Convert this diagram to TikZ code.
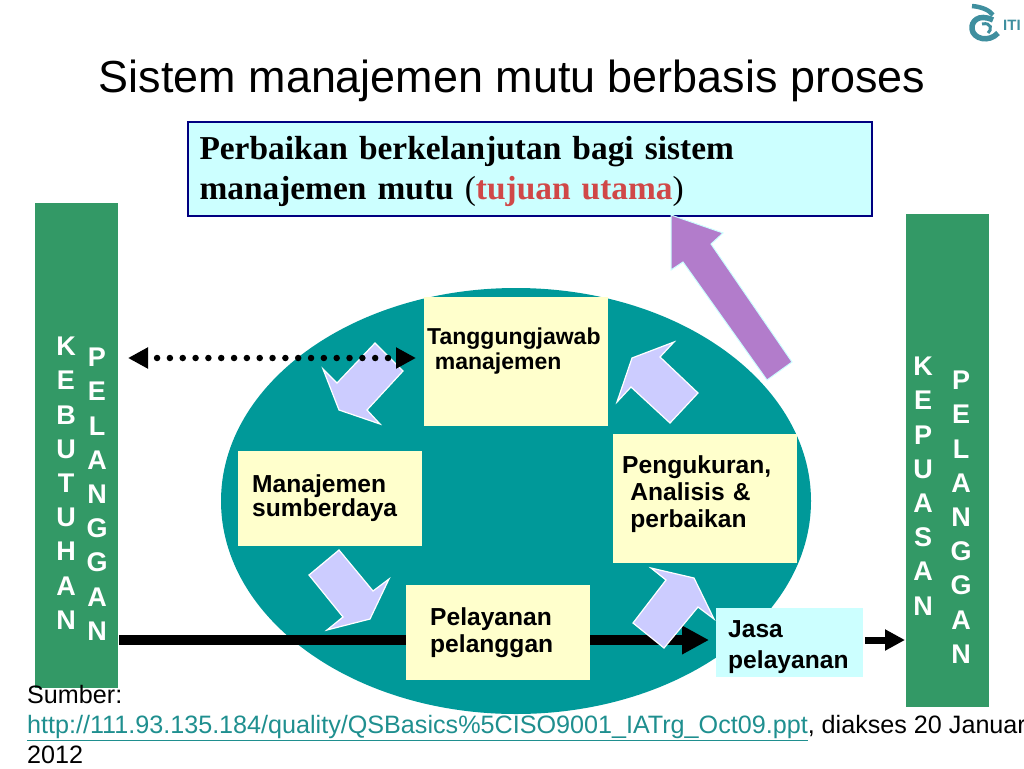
\documentclass[tikz,border=0pt]{standalone}
\usepackage{fontspec}
\setmainfont{Liberation Sans}
\newfontfamily\serifbox{Liberation Serif}
\usetikzlibrary{arrows.meta,shapes.geometric}
\definecolor{barGreen}{HTML}{339966}
\definecolor{ovalTeal}{HTML}{009999}
\definecolor{boxCream}{HTML}{FFFFCC}
\definecolor{boxBlue}{HTML}{CCFFFF}
\definecolor{boxNavy}{HTML}{000080}
\definecolor{arrowLilac}{HTML}{CCCCFF}
\definecolor{arrowPurple}{HTML}{B27CCB}
\definecolor{goalRed}{HTML}{D04848}
\definecolor{linkTeal}{HTML}{1F8F8F}
\definecolor{logoTeal}{HTML}{3F8F9F}
\newcommand{\fsize}[2]{\fontsize{#1}{#2}\selectfont}
\begin{document}
\begin{tikzpicture}[x=1pt,y=-1pt,>=stealth,
    bar/.style={fill=barGreen,inner sep=0pt},
    stack/.style={align=center,text=white,font=\fsize{27}{34.2}\bfseries,inner sep=0pt,anchor=north},
    box/.style={fill=boxCream,inner ysep=0pt,align=left,font=\fsize{24.6}{27}\bfseries,anchor=north west},
    blockarrow/.style={draw=white,fill=arrowLilac,line width=1.2pt,line join=miter}]
  \useasboundingbox (0,0) rectangle (1024,768);
  % logo
  \draw[logoTeal,line width=4.5pt] (972,6) .. controls (982,7) and (989,10) .. (993,15);
  \draw[logoTeal,line width=5.5pt] (993,20) .. controls (978,13) and (971,22) .. (972,29) .. controls (973,39) and (989,43) .. (998,33);
  \draw[logoTeal,line width=3pt] (982,24) .. controls (992,22) and (992,30) .. (988,33);
  \node[text=logoTeal,font=\fsize{15}{15}\bfseries,anchor=west,inner sep=0pt] (logo) at (1003,25) {ITI};
  % title
  \node[font=\fsize{44.9}{45},inner sep=0pt] (title) at (512,81) {Sistem manajemen mutu berbasis proses};
  % goal box
  \node[draw=boxNavy,line width=2pt,fill=boxBlue,minimum width=684pt,minimum height=94pt,inner xsep=12pt,inner ysep=0pt,
    text width=660pt,text depth=41pt,align=left,font=\serifbox\fsize{33.4}{40}\bfseries,anchor=north west] (goal) at (186.5,120.5)
    {Perbaikan berkelanjutan bagi sistem\\manajemen mutu {\mdseries(}\textcolor{goalRed}{tujuan utama}{\mdseries)}};
  % side bars
  \node[bar,minimum width=83pt,minimum height=485pt,anchor=north west] (needs) at (35,203) {};
  \node[bar,minimum width=83pt,minimum height=493pt,anchor=north west] (satisfy) at (906,214) {};
  \node[stack] (needsA) at (66,337) {K\\E\\B\\U\\T\\U\\H\\A\\N};
  \node[stack] (needsB) at (97,348) {P\\E\\L\\A\\N\\G\\G\\A\\N};
  \node[stack] (satisfyA) at (923,357) {K\\E\\P\\U\\A\\S\\A\\N};
  \node[stack] (satisfyB) at (961,371) {P\\E\\L\\A\\N\\G\\G\\A\\N};
  % oval
  \node[ellipse,fill=ovalTeal,minimum width=590pt,minimum height=426pt,inner sep=0pt] (oval) at (516,501) {};
  % product flow
  \coordinate (flowStart) at (119,640);
  \coordinate (flowEnd) at (709,640);
  \coordinate (outStart) at (865,640);
  \coordinate (outEnd) at (905,640);
  \draw[line width=10pt,-{Triangle[length=27pt,width=27pt]}] (flowStart) -- (flowEnd);
  \draw[line width=7pt,-{Triangle[length=20pt,width=20pt]}] (outStart) -- (outEnd);
  % process boxes
  \node[box,minimum width=184pt,minimum height=129pt,inner xsep=3pt,text width=178pt,text depth=51pt,font=\fsize{23}{25}\bfseries] (duty) at (424,297)
    {Tanggungjawab\\\ manajemen};
  \node[box,minimum width=184pt,minimum height=95pt,inner xsep=14pt,text width=156pt,text depth=30pt,font=\fsize{24.6}{21}\bfseries] (resource) at (238,451)
    {Manajemen\\sumberdaya};
  \node[box,minimum width=184pt,minimum height=129pt,inner xsep=9pt,text width=166pt,text depth=69pt] (measure) at (613,434)
    {Pengukuran,\\\ Analisis \&\\\ perbaikan};
  \node[box,minimum width=184pt,minimum height=95pt,inner xsep=24pt,text width=136pt] (service) at (406,585)
    {Pelayanan\\pelanggan};
  \node[box,fill=boxBlue,minimum width=147pt,minimum height=69pt,inner xsep=12pt,text width=123pt,text depth=28pt,font=\fsize{24.6}{31}\bfseries] (result) at (716,608)
    {Jasa\\pelayanan};
  % block arrows
  \draw[blockarrow] (375,343) -- (403,371) -- (367,410) -- (380,424) -- (339,410) -- (323,369) -- (337,383) -- cycle;
  \draw[blockarrow] (339,550) -- (373,591) -- (389,579) -- (370,619) -- (327,630) -- (343,617) -- (309,575) -- cycle;
  \draw[blockarrow] (633,623) -- (666,580) -- (651,568) -- (694,578) -- (714,619) -- (698,607) -- (664,648) -- cycle;
  \draw[blockarrow] (698,393) -- (660,357) -- (674,342) -- (632,358) -- (617,402) -- (631,387) -- (670,423) -- cycle;
  \draw[draw=boxBlue,fill=arrowPurple,line width=1pt] (671,215) -- (723,233) -- (711,244) -- (792,362) -- (767,380) -- (683,262) -- (671,270) -- cycle;
  % dotted link
  \coordinate (linkLeft) at (128,358);
  \coordinate (linkRight) at (416,358);
  \draw[line width=6.5pt,line cap=round,dash pattern=on 0pt off 12.83pt,dash phase=2.5pt,
    {Triangle[length=20pt,width=20pt]}-{Triangle[length=20pt,width=20pt]}] (linkLeft) -- (linkRight);
  % source
  \node[align=left,font=\fsize{25.15}{30},inner sep=0pt,anchor=north west] (source) at (27,685)
    {Sumber:\\\textcolor{linkTeal}{\underline{http://111.93.135.184/quality/QSBasics\%5CISO9001\_IATrg\_Oct09.ppt}}, diakses 20 Januari\\2012};
\end{tikzpicture}
\end{document}
